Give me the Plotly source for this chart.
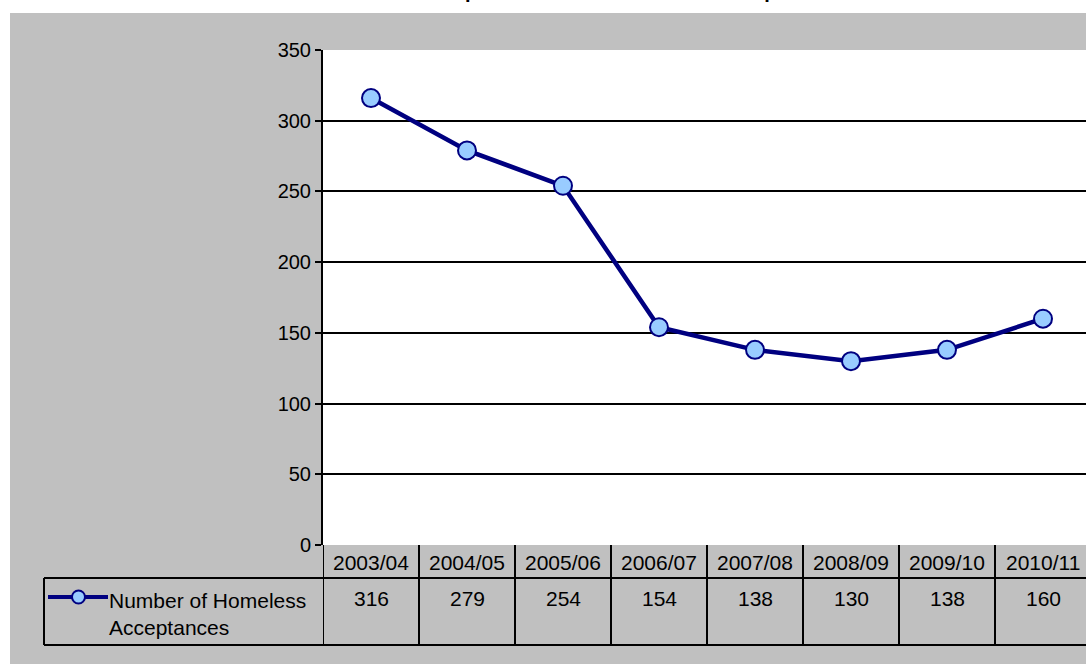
import plotly.graph_objects as go

# Homeless acceptances by financial year
years = ["2003/04", "2004/05", "2005/06", "2006/07", "2007/08", "2008/09", "2009/10", "2010/11"]
acceptances = [316, 279, 254, 154, 138, 130, 138, 160]
y_ticks = [0, 50, 100, 150, 200, 250, 300, 350]
series_name = "Number of Homeless<br>Acceptances"
title_text = "Homeless Acceptances 2003/04 - 2010/11: Comparison"

W, H = 1086, 664
L, R, T, B = 323, 0, 50, 119
plot_w = W - L - R
plot_h = H - T - B

NAVY = "#000080"
MARKER_FILL = "#99CCFF"
GREY = "#C0C0C0"
FONT = "Arial, Liberation Sans, sans-serif"
FS = 21


def px_x(px):
    """Horizontal pixel -> paper coordinate."""
    return (px - L) / plot_w


def px_y(py):
    """Vertical pixel (from top) -> paper coordinate."""
    return (H - B - py) / plot_h


col_w = 96.0
# Last column is partly outside the canvas
x_max = -0.5 + plot_w / col_w

fig = go.Figure()
fig.add_trace(go.Scatter(
    x=list(range(len(years))),
    y=acceptances,
    mode="lines+markers",
    line=dict(color=NAVY, width=4.5),
    marker=dict(symbol="circle", size=18, color=MARKER_FILL,
                line=dict(color=NAVY, width=2)),
    cliponaxis=False,
    showlegend=False,
))

shapes = []
annotations = []

# white strips around the grey chart area
shapes.append(dict(type="rect", xref="paper", yref="paper",
                   x0=px_x(0), x1=px_x(10), y0=px_y(H), y1=px_y(0),
                   fillcolor="white", line=dict(width=0), layer="above"))
shapes.append(dict(type="rect", xref="paper", yref="paper",
                   x0=px_x(0), x1=px_x(W), y0=px_y(13), y1=px_y(0),
                   fillcolor="white", line=dict(width=0), layer="above"))

# data table below the plot
row1_top, row1_bot, row2_bot = 545, 578, 645
legend_left = 44
border = dict(color="black", width=2)
for i in range(len(years) + 1):
    shapes.append(dict(type="line", xref="x", yref="paper",
                       x0=i - 0.5, x1=i - 0.5,
                       y0=px_y(row1_top), y1=px_y(row2_bot), line=border))
shapes.append(dict(type="line", xref="paper", yref="paper",
                   x0=px_x(legend_left), x1=1.0,
                   y0=px_y(row1_bot), y1=px_y(row1_bot), line=border))
shapes.append(dict(type="line", xref="paper", yref="paper",
                   x0=px_x(legend_left), x1=1.0,
                   y0=px_y(row2_bot), y1=px_y(row2_bot), line=border))
shapes.append(dict(type="line", xref="paper", yref="paper",
                   x0=px_x(legend_left), x1=px_x(legend_left),
                   y0=px_y(row1_bot), y1=px_y(row2_bot), line=border))

for i, (yr, v) in enumerate(zip(years, acceptances)):
    annotations.append(dict(x=i, y=px_y(562), xref="x", yref="paper",
                            text=yr, showarrow=False,
                            font=dict(family=FONT, size=FS, color="black"),
                            xanchor="center", yanchor="middle"))
    annotations.append(dict(x=i, y=px_y(598), xref="x", yref="paper",
                            text=str(v), showarrow=False,
                            font=dict(family=FONT, size=FS, color="black"),
                            xanchor="center", yanchor="middle"))

# legend key inside the table
key_y = px_y(597)
shapes.append(dict(type="line", xref="paper", yref="paper",
                   x0=px_x(48), x1=px_x(108), y0=key_y, y1=key_y,
                   line=dict(color=NAVY, width=4)))
shapes.append(dict(type="circle", xref="paper", yref="paper",
                   x0=px_x(72), x1=px_x(85),
                   y0=px_y(603.5), y1=px_y(590.5),
                   fillcolor=MARKER_FILL, line=dict(color=NAVY, width=2)))
annotations.append(dict(x=px_x(107), y=px_y(614), xref="paper", yref="paper",
                        text=series_name, showarrow=False, align="left",
                        font=dict(family=FONT, size=FS, color="black"),
                        xanchor="left", yanchor="middle"))

# chart title, mostly above the visible area
annotations.append(dict(x=px_x(577), y=px_y(4), xref="paper", yref="paper",
                        text="<b>" + title_text + "</b>", showarrow=False,
                        font=dict(family=FONT, size=20, color="black"),
                        xanchor="center", yanchor="bottom"))

fig.update_layout(
    width=W, height=H,
    margin=dict(l=L, r=R, t=T, b=B, pad=0),
    paper_bgcolor=GREY,
    plot_bgcolor="white",
    font=dict(family=FONT, size=FS, color="black"),
    shapes=shapes,
    annotations=annotations,
    showlegend=False,
)
fig.update_xaxes(range=[-0.5, x_max], showgrid=False, showticklabels=False,
                 zeroline=False, showline=False, ticks="", fixedrange=True)
fig.update_yaxes(range=[0, 350], tickvals=y_ticks, showgrid=True,
                 gridcolor="black", gridwidth=2, zeroline=False,
                 showline=True, linecolor="black", linewidth=2,
                 ticks="outside", ticklen=6, tickwidth=2, tickcolor="black",
                 tickfont=dict(family=FONT, size=20, color="black"),
                 fixedrange=True)

fig.write_html("out.html")
